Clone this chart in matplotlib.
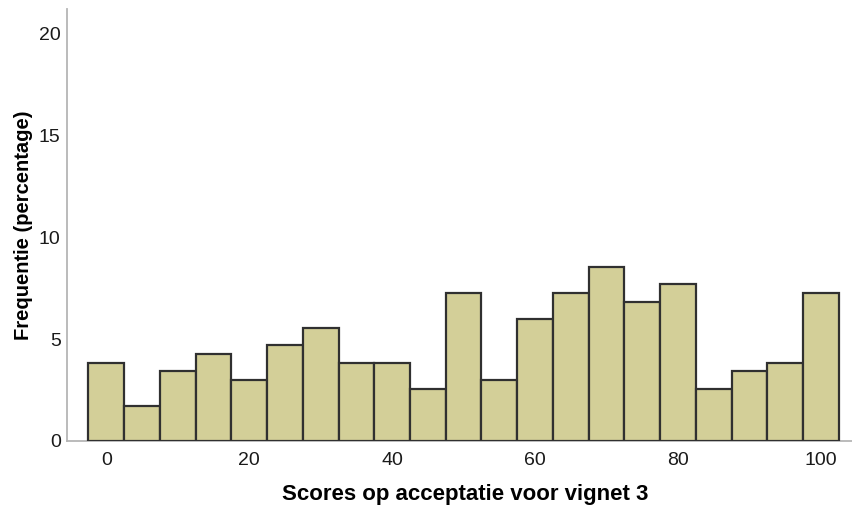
import numpy as np
import matplotlib
matplotlib.use('Agg')
import matplotlib.pyplot as plt

# bin centres (width 5) and percentage per bin
bin_centres = [0, 5, 10, 15, 20, 25, 30, 35, 40, 45, 50,
               55, 60, 65, 70, 75, 80, 85, 90, 95, 100]
percentages = [3.85, 1.71, 3.42, 4.27, 2.99, 4.70, 5.56, 3.85, 3.85, 2.56, 7.26,
               2.99, 5.98, 7.26, 8.55, 6.84, 7.69, 2.56, 3.42, 3.85, 7.26]
x_ticks = [0, 20, 40, 60, 80, 100]
y_ticks = [0, 5, 10, 15, 20]

plt.rcParams['font.family'] = ['Liberation Sans', 'DejaVu Sans']

fig = plt.figure(figsize=(8.53, 5.13), dpi=100)
ax = fig.add_axes([0.0785, 0.1404, 0.9215, 0.8421])

ax.bar(bin_centres, percentages, width=5, color='#d3cf98',
       edgecolor='#303030', linewidth=1.6, zorder=3)

ax.set_xlim(-5.5, 104.5)
ax.set_ylim(0, 21.2)
ax.set_xticks(x_ticks)
ax.set_yticks(y_ticks)
ax.tick_params(axis='both', length=0, labelsize=14, colors='#1a1a1a')
ax.tick_params(axis='x', pad=8)
ax.tick_params(axis='y', pad=4.5)

for side in ['top', 'right']:
    ax.spines[side].set_visible(False)
for side in ['left', 'bottom']:
    ax.spines[side].set_color('#b5b5b5')
    ax.spines[side].set_linewidth(1.3)

ax.set_xlabel('Scores op acceptatie voor vignet 3', fontsize=16,
              fontweight='bold', labelpad=12)
ax.xaxis.set_label_coords(0.506, -0.1)
ax.xaxis.label.set_va('top')
ax.set_ylabel('Frequentie (percentage)', fontsize=14.5,
              fontweight='bold', labelpad=4)

fig.savefig('out.png', dpi=100)
